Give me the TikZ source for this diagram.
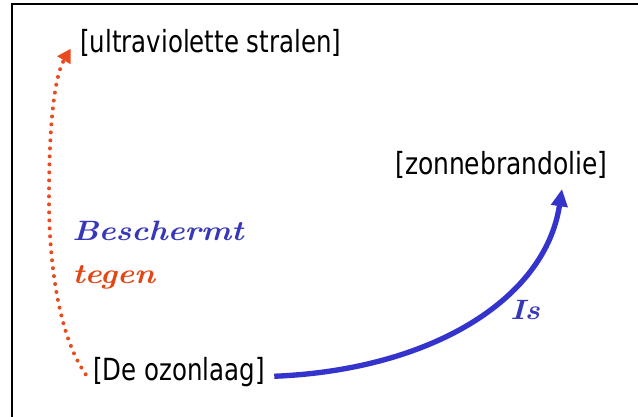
\documentclass[tikz,border=0pt]{standalone}
\usepackage{fontspec}
\setmainfont{DejaVu Sans Condensed}
\usetikzlibrary{arrows.meta}
\definecolor{arrblue}{RGB}{52,52,204}
\definecolor{txtblue}{RGB}{55,55,185}
\definecolor{dotorange}{RGB}{232,76,30}
\definecolor{txtorange}{RGB}{225,70,20}
\newfontfamily\scriptfnt{Latin Modern Roman}
\tikzset{
  concept/.style={inner sep=0pt, anchor=base west, font=\fontsize{20.4}{24}\selectfont},
  lbl/.style={inner sep=0pt, anchor=base west, font=\scriptfnt\bfseries\itshape\fontsize{21}{26}\selectfont},
}
\newcommand{\tall}[1]{\scalebox{1}[1.12]{#1}}
\begin{document}
\begin{tikzpicture}[x=0.75pt,y=-0.75pt]
\useasboundingbox (0,0) rectangle (638,417);
\fill[white] (0,0) rectangle (638,417);
\draw[line width=1.5pt] (11.5,417) -- (11.5,4.5) -- (638,4.5);
\node[concept] (uv) at (80,53) {\tall{[ultraviolette stralen]}};
\node[concept] (zb) at (395,175) {\scalebox{1.02}[1.12]{[zonnebrandolie]}};
\node[concept] (oz) at (93,380) {\tall{[De ozonlaag]}};
\node[lbl, text=txtblue] (besch) at (72,240) {\scalebox{1.15}[1]{Beschermt}};
\node[lbl, text=txtorange] (teg) at (72,283) {\scalebox{1.15}[1]{tegen}};
\node[lbl, text=txtblue] (is) at (510,319) {\scalebox{1.1}[1]{Is}};
\coordinate (ozl) at ([xshift=-5.5pt,yshift=-2pt]oz.west);
\coordinate (uvl) at ([xshift=-7pt,yshift=-4pt]uv.west);
\draw[dotorange, line width=3pt, line cap=round, dash pattern=on 0pt off 6pt,
  -{Triangle[width=11pt,length=10pt,line cap=butt]}]
  (ozl) .. controls (58,335) and (49,260) .. (49,200)
  .. controls (49,120) and (55,75) .. (uvl);
\coordinate (ozr) at ([xshift=7pt,yshift=-3.5pt]oz.east);
\coordinate (zbt) at (562,189);
\draw[arrblue, line width=4pt, -{Triangle[width=12pt,length=13pt]}]
  (ozr) .. controls (430,370) and (545,300) .. (zbt);
\end{tikzpicture}
\end{document}
